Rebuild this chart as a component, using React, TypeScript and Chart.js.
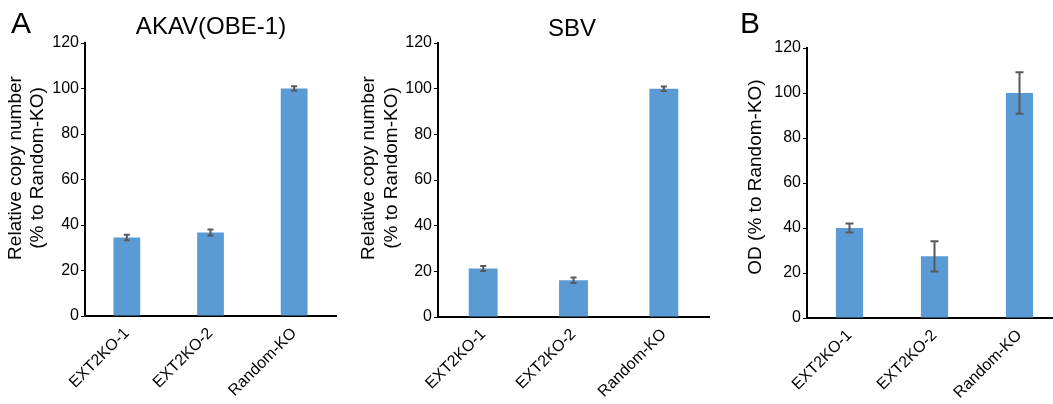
import React, { useEffect, useRef } from "react";
import { Chart, registerables } from "chart.js";

Chart.register(...registerables);

const categories = ["EXT2KO-1", "EXT2KO-2", "Random-KO"];
const akavValues = [34.5, 36.7, 100];
const akavErrors = [1.2, 1.3, 1.0];
const sbvValues = [21.2, 16.1, 100];
const sbvErrors = [1.1, 1.2, 1.0];
const odValues = [40.0, 27.4, 100];
const odErrors = [2.0, 6.7, 9.2];
const yMin = 0;
const yMax = 120;
const yStep = 20;

const FONT = "'Liberation Sans', Arial, sans-serif";
const BAR_COLOR = "#5B9BD5";
const ERR_COLOR = "#595959";

type TextItem = { text: string; x: number; y: number; size: number; rotate?: boolean; align?: CanvasTextAlign; baseline?: CanvasTextBaseline };

type PanelCfg = {
  left: number;
  width: number;
  axisX: number;
  right: number;
  top: number;
  bottom: number;
  values: number[];
  errors: number[];
  cap: number;
  texts: TextItem[];
};

const H = 404;

const panels: PanelCfg[] = [
  {
    left: 0,
    width: 352,
    axisX: 85,
    right: 336,
    top: 43,
    bottom: 316,
    values: akavValues,
    errors: akavErrors,
    cap: 6,
    texts: [
      { text: "A", x: 11, y: 33, size: 30, align: "left", baseline: "alphabetic" },
      { text: "AKAV(OBE-1)", x: 211, y: 27, size: 24 },
      { text: "Relative copy number", x: 16, y: 168, size: 19, rotate: true },
      { text: "(% to Random-KO)", x: 38, y: 168, size: 19, rotate: true },
    ],
  },
  {
    left: 352,
    width: 366,
    axisX: 438,
    right: 709,
    top: 43,
    bottom: 317,
    values: sbvValues,
    errors: sbvErrors,
    cap: 6,
    texts: [
      { text: "SBV", x: 572, y: 29, size: 24 },
      { text: "Relative copy number", x: 369, y: 168, size: 19, rotate: true },
      { text: "(% to Random-KO)", x: 392, y: 168, size: 19, rotate: true },
    ],
  },
  {
    left: 718,
    width: 352,
    axisX: 807,
    right: 1062,
    top: 48,
    bottom: 318,
    values: odValues,
    errors: odErrors,
    cap: 8,
    texts: [
      { text: "B", x: 740, y: 33, size: 30, align: "left", baseline: "alphabetic" },
      { text: "OD (% to Random-KO)", x: 756, y: 177, size: 19, rotate: true },
    ],
  },
];

function Panel({ cfg }: { cfg: PanelCfg }) {
  const ref = useRef<HTMLCanvasElement | null>(null);
  useEffect(() => {
    if (!ref.current) return;
    const annot = {
      id: "annot",
      afterDatasetsDraw(chart: any) {
        const ctx = chart.ctx as CanvasRenderingContext2D;
        const xs = chart.scales.x;
        const ys = chart.scales.y;
        ctx.save();
        ctx.strokeStyle = ERR_COLOR;
        ctx.lineWidth = 2;
        cfg.values.forEach((v, i) => {
          const x = xs.getPixelForValue(i);
          const yt = ys.getPixelForValue(v + cfg.errors[i]);
          const yb = ys.getPixelForValue(v - cfg.errors[i]);
          ctx.beginPath();
          ctx.moveTo(x, yt);
          ctx.lineTo(x, yb);
          ctx.moveTo(x - cfg.cap / 2, yt);
          ctx.lineTo(x + cfg.cap / 2, yt);
          ctx.moveTo(x - cfg.cap / 2, yb);
          ctx.lineTo(x + cfg.cap / 2, yb);
          ctx.stroke();
        });
        ctx.restore();
      },
      afterDraw(chart: any) {
        const ctx = chart.ctx as CanvasRenderingContext2D;
        ctx.save();
        ctx.fillStyle = "#000";
        cfg.texts.forEach((t) => {
          ctx.font = `${t.size}px ${FONT}`;
          ctx.textAlign = t.align || "center";
          ctx.textBaseline = t.baseline || "middle";
          const x = t.x - cfg.left;
          if (t.rotate) {
            ctx.save();
            ctx.translate(x, t.y);
            ctx.rotate(-Math.PI / 2);
            ctx.fillText(t.text, 0, 0);
            ctx.restore();
          } else {
            ctx.fillText(t.text, x, t.y);
          }
        });
        ctx.restore();
      },
    };
    const chart = new Chart(ref.current, {
      type: "bar",
      data: {
        labels: categories,
        datasets: [
          {
            data: cfg.values,
            backgroundColor: BAR_COLOR,
            barPercentage: 0.32,
            categoryPercentage: 1,
          },
        ],
      },
      options: {
        animation: false,
        responsive: false,
        maintainAspectRatio: false,
        layout: {
          padding: { left: 0, top: cfg.top, right: cfg.width - (cfg.right - cfg.left), bottom: 0 },
        },
        plugins: { legend: { display: false }, tooltip: { enabled: false }, title: { display: false } },
        scales: {
          x: {
            offset: true,
            grid: { display: false },
            border: { display: true, color: "#000", width: 2 },
            ticks: {
              color: "#000",
              font: { family: FONT, size: 16 },
              minRotation: 45,
              maxRotation: 45,
              padding: 0,
            },
            afterFit: (s: any) => {
              s.height = H - cfg.bottom;
            },
          },
          y: {
            min: yMin,
            max: yMax,
            grid: { display: true, drawOnChartArea: false, drawTicks: true, tickLength: 4, color: "#000", lineWidth: 1 },
            border: { display: true, color: "#000", width: 2 },
            ticks: {
              stepSize: yStep,
              color: "#000",
              font: { family: FONT, size: 16 },
              padding: 2,
            },
            afterFit: (s: any) => {
              s.width = cfg.axisX - cfg.left;
            },
          },
        },
      },
      plugins: [annot],
    } as any);
    return () => chart.destroy();
  }, [cfg]);
  return (
    <canvas
      ref={ref}
      width={cfg.width}
      height={H}
      style={{ position: "absolute", left: cfg.left, top: 0, width: cfg.width, height: H }}
    />
  );
}

export default function App() {
  return (
    <div
      style={{
        position: "fixed",
        left: 0,
        top: 0,
        width: 1053,
        height: H,
        overflow: "hidden",
        background: "#fff",
      }}
    >
      {panels.map((p, i) => (
        <Panel key={i} cfg={p} />
      ))}
    </div>
  );
}
